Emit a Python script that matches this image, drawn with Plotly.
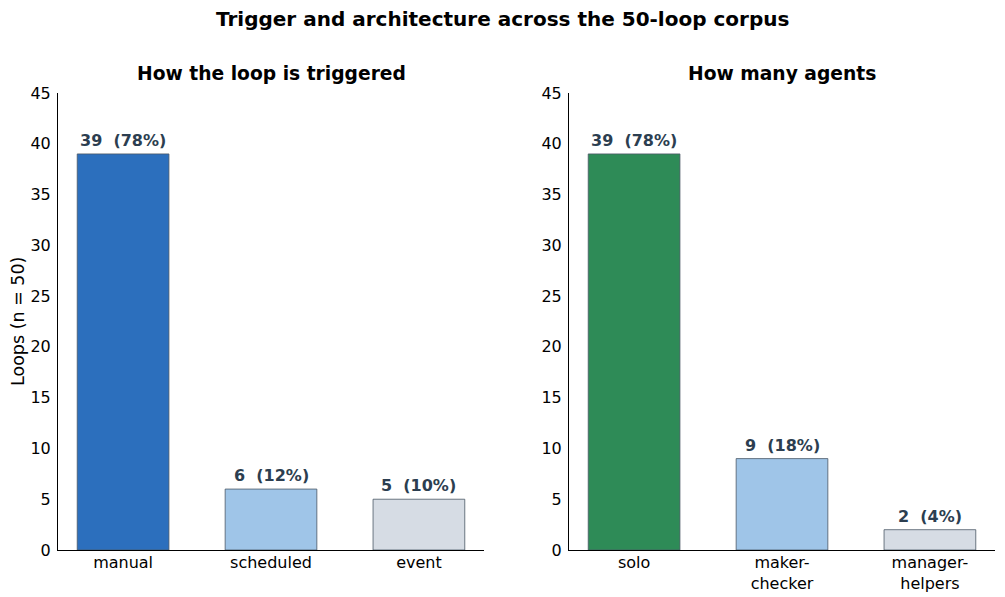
import plotly.graph_objects as go

trigger_cats = ["manual", "scheduled", "event"]
trigger_vals = [39, 6, 5]
trigger_pct = [78, 12, 10]
agent_cats = ["solo", "maker-<br>checker", "manager-<br>helpers"]
agent_vals = [39, 9, 2]
agent_pct = [78, 18, 4]
trigger_colors = ["#2c6fbd", "#9fc5e8", "#d6dce4"]
agent_colors = ["#2e8b57", "#9fc5e8", "#d6dce4"]
y_ticks = list(range(0, 50, 5))

FONT = "DejaVu Sans"
LABEL_COLOR = "#2c3e50"
EDGE = "#4a5866"

fig = go.Figure()
fig.add_trace(go.Bar(x=list(range(3)), y=trigger_vals, width=0.62, marker=dict(color=trigger_colors, line=dict(color=EDGE, width=0.8)),
                     xaxis="x", yaxis="y", showlegend=False, hoverinfo="skip"))
fig.add_trace(go.Bar(x=list(range(3)), y=agent_vals, width=0.62, marker=dict(color=agent_colors, line=dict(color=EDGE, width=0.8)),
                     xaxis="x2", yaxis="y2", showlegend=False, hoverinfo="skip"))

annotations = []
for i, (v, p) in enumerate(zip(trigger_vals, trigger_pct)):
    annotations.append(dict(x=i, y=v, xref="x", yref="y", text=f"<b>{v}\u00a0\u00a0({p}%)</b>", showarrow=False,
                            yanchor="bottom", yshift=2, font=dict(family=FONT, size=16, color=LABEL_COLOR)))
for i, (v, p) in enumerate(zip(agent_vals, agent_pct)):
    annotations.append(dict(x=i, y=v, xref="x2", yref="y2", text=f"<b>{v}\u00a0\u00a0({p}%)</b>", showarrow=False,
                            yanchor="bottom", yshift=2, font=dict(family=FONT, size=16, color=LABEL_COLOR)))
annotations.append(dict(x=0.5, y=1 - 19/597, xref="paper", yref="paper", text="<b>Trigger and architecture across the 50-loop corpus</b>",
                        showarrow=False, xanchor="center", yanchor="middle", font=dict(family=FONT, size=20, color="black")))
annotations.append(dict(x=(58+484)/2/1005, y=1 - 74/597, xref="paper", yref="paper", text="<b>How the loop is triggered</b>",
                        showarrow=False, xanchor="center", yanchor="middle", font=dict(family=FONT, size=18.7, color="black")))
annotations.append(dict(x=(569+995)/2/1005, y=1 - 74/597, xref="paper", yref="paper", text="<b>How many agents</b>",
                        showarrow=False, xanchor="center", yanchor="middle", font=dict(family=FONT, size=18.7, color="black")))
annotations.append(dict(x=18/1005, y=1 - 322/597, xref="paper", yref="paper", text="Loops (n = 50)", textangle=-90,
                        showarrow=False, xanchor="center", yanchor="middle", font=dict(family=FONT, size=17.5, color="black")))

xr = [-0.44, 2.44]
common_x = dict(range=xr, tickmode="array", tickvals=list(range(3)), showline=True, linecolor="black", linewidth=1,
                ticks="", showgrid=False, zeroline=False, automargin=False, ticklabelstandoff=-2,
                tickfont=dict(family=FONT, size=16, color="black"))
common_y = dict(range=[0, 45], tickvals=y_ticks, showline=True, linecolor="black", linewidth=1, ticks="outside", ticklen=0,
                showgrid=False, zeroline=False, automargin=False, ticklabelstandoff=3, tickfont=dict(family=FONT, size=16, color="black"))

fig.update_layout(
    width=1005, height=597, margin=dict(l=0, r=0, t=0, b=0, autoexpand=False),
    paper_bgcolor="white", plot_bgcolor="white",
    xaxis=dict(domain=[58/1005, 484/1005], ticktext=trigger_cats, anchor="y", **common_x),
    xaxis2=dict(domain=[569/1005, 995/1005], ticktext=agent_cats, anchor="y2", **common_x),
    yaxis=dict(domain=[1-550/597, 1-93/597], anchor="x", **common_y),
    yaxis2=dict(domain=[1-550/597, 1-93/597], anchor="x2", **common_y),
    annotations=annotations,
    font=dict(family=FONT),
)

fig.write_html("out.html")
